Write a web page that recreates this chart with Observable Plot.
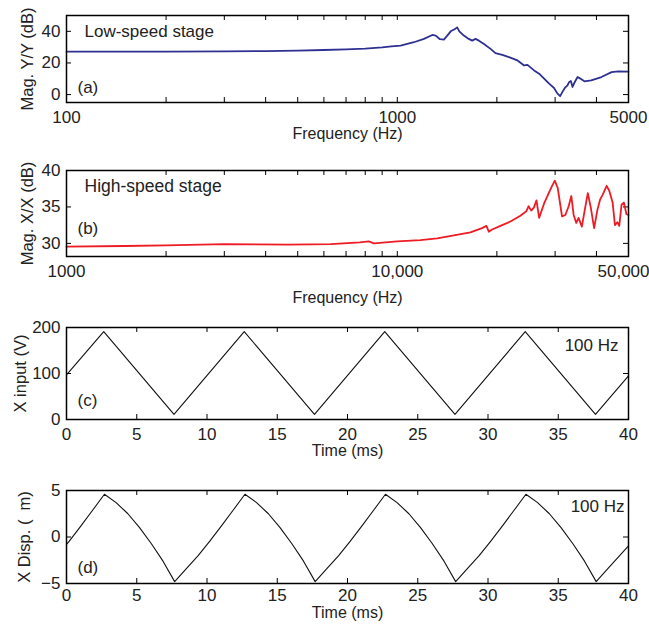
<!DOCTYPE html>
<html><head><meta charset="utf-8">
<script src="https://cdn.jsdelivr.net/npm/d3@7"></script>
<script src="https://cdn.jsdelivr.net/npm/@observablehq/plot@0.6"></script>
<style>body{margin:0;background:#fff;} #chart svg{display:block;}</style>
</head><body><div id="chart"></div>
<script>
// ---------- Panel (a): low-speed stage FRF ----------
const lowFreq = [100,150,200,300,400,500,600,700,800,900,960,1023,1123,1204,1276,1307,1346,1383,1416,1450,1490,1517,1540,1589,1645,1684,1724,1765,1828,1914,1980,2077,2175,2309,2418,2475,2592,2684,2779,2878,2978,3050,3107,3157,3210,3270,3310,3348,3387,3427,3508,3575,3678,3857,4141,4445,4658,5000];
const lowMag  = [27.2,27.2,27.2,27.3,27.5,27.8,28.2,28.6,29.1,29.8,30.5,31.0,33.1,35.2,37.7,37.3,35.0,34.8,37.3,40.0,41.3,42.5,40.0,37.3,35.2,34.1,35.2,34.1,32.0,28.9,26.2,25.1,23.7,21.6,18.4,18.8,15.3,13.2,10.1,6.9,4.2,0.6,-1.0,1.7,4.2,5.9,8.0,8.6,4.8,7.3,11.1,10.1,8.4,9.0,11.1,14.2,14.7,14.5];
const aXTicks = [100,1000,5000];
const aXTickLabels = ["100","1000","5000"];
const aXMinor = [100,200,300,400,500,600,700,800,900,1000,2000,3000,4000,5000];
const aYTicks = [0,20,40];

// ---------- Panel (b): high-speed stage FRF ----------
const highFreq = [1000,1500,2000,3000,4700,6300,7700,8200,8500,10000,11750,13200,14830,16640,18040,18590,18910,19350,20500,21980,23550,24550,24950,25400,25870,26350,26840,27850,28700,29380,29930,30550,31480,32220,32970,33580,34130,34760,35320,36140,36810,37670,38460,39360,40270,41020,41780,42950,43750,44770,45500,46240,46880,47640,48410,49310,50000];
const highMag  = [29.55,29.64,29.73,29.9,29.82,29.9,30.14,30.27,30.0,30.27,30.46,30.7,31.1,31.5,32.1,32.4,31.6,31.9,32.4,33.0,33.8,34.4,35.1,34.5,34.9,35.9,33.5,35.6,36.9,37.9,38.6,37.6,33.7,33.9,35.1,36.5,33.9,32.8,33.5,32.3,34.4,36.9,34.9,32.1,34.6,36.0,36.7,37.9,37.2,35.6,32.5,32.9,32.4,35.3,35.6,34.0,33.9];
const bXTicks = [1000,10000,50000];
const bXTickLabels = ["1000","10,000","50,000"];
const bXMinor = [1000,2000,3000,4000,5000,6000,7000,8000,9000,10000,20000,30000,40000,50000];
const bYTicks = [30,35,40];

// ---------- Panel (c): X input voltage ----------
const inTime = [0,2.65,7.65,12.65,17.65,22.65,27.65,32.65,37.65,40];
const inVolt = [97,191,11,191,11,191,11,191,11,95];
const cYTicks = [0,100,200];

// ---------- Panel (d): X displacement ----------
const dispTime = [0,0.2,1.03,1.87,2.7,3.53,4.37,5.2,6.03,6.87,7.7,8.53,9.37,10.2,11.03,11.87,12.7,13.53,14.37,15.2,16.03,16.87,17.7,18.53,19.37,20.2,21.03,21.87,22.7,23.53,24.37,25.2,26.03,26.87,27.7,28.53,29.37,30.2,31.03,31.87,32.7,33.53,34.37,35.2,36.03,36.87,37.7,38.53,39.37,40];
const dispVal  = [-0.8,-0.45,1.2,2.9,4.6,3.7,2.5,1.0,-0.7,-2.6,-4.8,-3.4,-2.0,-0.45,1.2,2.9,4.6,3.7,2.5,1.0,-0.7,-2.6,-4.8,-3.4,-2.0,-0.45,1.2,2.9,4.6,3.7,2.5,1.0,-0.7,-2.6,-4.8,-3.4,-2.0,-0.45,1.2,2.9,4.6,3.7,2.5,1.0,-0.7,-2.6,-4.8,-3.4,-2.0,-0.95];
const dYTicks = [-5,0,5];

const timeTicks = [0,5,10,15,20,25,30,35,40];
const timeTickLabels = ["0","5","10","15","20","25","30","35","40"];

const W = 649, ML = 66, MR = 21;
const FONT = "'Liberation Sans', Arial, Helvetica, sans-serif";

function panel(o) {
  const innerH = o.height - o.mt - o.mb;
  const innerW = W - ML - MR;
  const len = 5;
  const data = o.xs.map((x, i) => ({x, y: o.ys[i]}));
  const fmt = d => o.xLabels[o.xTicks.indexOf(d)];
  const nt = o.xTicks.length;
  const marks = [
    Plot.tickX(o.xMinor, {x: d => d, insetTop: innerH - len, stroke: "#000", strokeWidth: 1}),
    Plot.tickX(o.xMinor, {x: d => d, insetBottom: innerH - len, stroke: "#000", strokeWidth: 1}),
    Plot.tickY(o.yTicks, {y: d => d, insetRight: innerW - len, stroke: "#000", strokeWidth: 1}),
    Plot.tickY(o.yTicks, {y: d => d, insetLeft: innerW - len, stroke: "#000", strokeWidth: 1}),
    Plot.axisX({ticks: o.xTicks.slice(0, nt - 1), tickFormat: fmt, tickSize: 0, tickPadding: o.xPad, label: null, fontSize: 17}),
    Plot.axisX({ticks: o.xTicks.slice(nt - 1), tickFormat: fmt, tickSize: 0, tickPadding: o.xPad, label: null, fontSize: 17, dx: o.lastDx || 0}),
    Plot.axisY({ticks: o.yTicks, tickSize: 0, tickPadding: 6, label: null, fontSize: 17}),
    Plot.line(data, {x: "x", y: "y", stroke: o.color, strokeWidth: o.sw}),
    Plot.frame({stroke: "#000", strokeWidth: 1.5}),
    Plot.text([o.xTitle], {text: d => d, frameAnchor: "bottom", lineAnchor: "middle", textAnchor: "middle", dy: o.xTitleDy, fontSize: 16}),
    Plot.text([o.yTitle], {text: d => d, frameAnchor: "left", lineAnchor: "middle", textAnchor: "middle", dx: o.yTitleDx, rotate: -90, fontSize: 16.5}),
    ...o.labels.map(l => Plot.text([l.text], {text: d => d, frameAnchor: l.anchor, lineAnchor: "middle", dx: l.dx, dy: l.dy, textAnchor: l.ta, fontSize: l.fs}))
  ];
  return Plot.plot({
    width: W, height: o.height,
    marginLeft: ML, marginRight: MR, marginTop: o.mt, marginBottom: o.mb,
    style: {fontFamily: FONT, fontSize: "16px", color: "#222", background: "white", overflow: "visible"},
    x: {type: o.xType, domain: o.xDomain},
    y: {type: "linear", domain: o.yDomain},
    marks
  });
}

const chart = document.getElementById("chart");

chart.append(panel({
  height: 150, mt: 15, mb: 48,
  xType: "log", xDomain: [100, 5000], yDomain: [-5, 50],
  xs: lowFreq, ys: lowMag, color: "#2e3192", sw: 1.8,
  xTicks: aXTicks, xLabels: aXTickLabels, xPad: 8, xMinor: aXMinor, yTicks: aYTicks,
  xTitle: "Frequency (Hz)", xTitleDy: 31, yTitle: "Mag. Y/Y (dB)", yTitleDx: -39,
  labels: [
    {text: "Low-speed stage", anchor: "top-left", dx: 18, dy: 16.5, ta: "start", fs: 17},
    {text: "(a)", anchor: "bottom-left", dx: 11, dy: -15, ta: "start", fs: 17}
  ]
}));

chart.append(panel({
  height: 160, mt: 20, mb: 54,
  xType: "log", xDomain: [1000, 50000], yDomain: [28.2, 40],
  xs: highFreq, ys: highMag, color: "#ed1c24", sw: 1.8,
  xTicks: bXTicks, xLabels: bXTickLabels, xPad: 8, lastDx: -5, xMinor: bXMinor, yTicks: bYTicks,
  xTitle: "Frequency (Hz)", xTitleDy: 41, yTitle: "Mag. X/X (dB)", yTitleDx: -39,
  labels: [
    {text: "High-speed stage", anchor: "top-left", dx: 18, dy: 16, ta: "start", fs: 17.5},
    {text: "(b)", anchor: "bottom-left", dx: 11, dy: -28, ta: "start", fs: 17}
  ]
}));

chart.append(panel({
  height: 155, mt: 17, mb: 46,
  xType: "linear", xDomain: [0, 40], yDomain: [0, 200],
  xs: inTime, ys: inVolt, color: "#111", sw: 1.1,
  xTicks: timeTicks, xLabels: timeTickLabels, xPad: 8, xMinor: timeTicks, yTicks: cYTicks,
  xTitle: "Time (ms)", xTitleDy: 31, yTitle: "X input (V)", yTitleDx: -46,
  labels: [
    {text: "(c)", anchor: "bottom-left", dx: 11, dy: -19, ta: "start", fs: 17},
    {text: "100 Hz", anchor: "top-right", dx: -10, dy: 18, ta: "end", fs: 17}
  ]
}));

chart.append(panel({
  height: 160, mt: 25, mb: 42,
  xType: "linear", xDomain: [0, 40], yDomain: [-5, 5],
  xs: dispTime, ys: dispVal, color: "#111", sw: 1.1,
  xTicks: timeTicks, xLabels: timeTickLabels, xPad: 5, xMinor: timeTicks, yTicks: dYTicks,
  xTitle: "Time (ms)", xTitleDy: 29.5, yTitle: "X Disp. (  m)", yTitleDx: -42,
  labels: [
    {text: "(d)", anchor: "bottom-left", dx: 11, dy: -16, ta: "start", fs: 17},
    {text: "100 Hz", anchor: "top-right", dx: -4, dy: 16, ta: "end", fs: 17}
  ]
}));
</script>
</body></html>
